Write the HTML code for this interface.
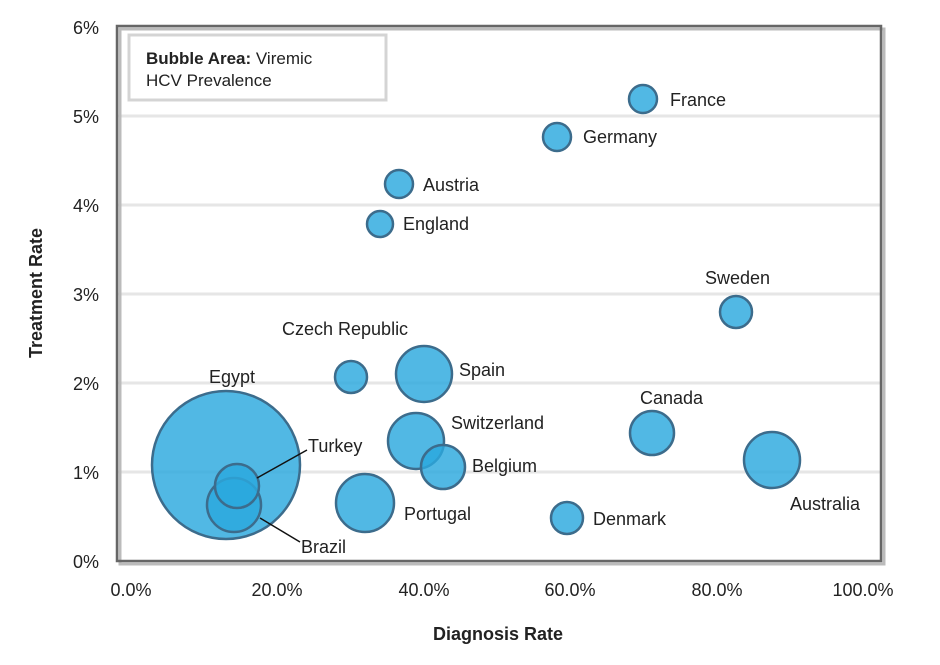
<!DOCTYPE html>
<html><head><meta charset="utf-8"><style>
html,body{margin:0;padding:0;background:#fff;}
svg text{font-family:"Liberation Sans",sans-serif;}
</style></head><body>
<svg width="940" height="660" viewBox="0 0 940 660" xmlns="http://www.w3.org/2000/svg">
<g stroke="#e6e6e6" stroke-width="3">
<line x1="118" y1="116" x2="880" y2="116"/>
<line x1="118" y1="205" x2="880" y2="205"/>
<line x1="118" y1="294" x2="880" y2="294"/>
<line x1="118" y1="383" x2="880" y2="383"/>
<line x1="118" y1="472" x2="880" y2="472"/>
</g>
<rect x="118" y="27" width="764" height="535" fill="none" stroke="#bbb" stroke-width="3" transform="translate(2,2)"/>
<rect x="117" y="26" width="764" height="535" fill="none" stroke="#666" stroke-width="2.5"/>
<rect x="129" y="35" width="257" height="65" fill="#fff" stroke="#d4d4d4" stroke-width="3"/>
<text x="146" y="64" font-size="17" fill="#222"><tspan font-weight="bold">Bubble Area:</tspan> Viremic</text>
<text x="146" y="86" font-size="17" fill="#222">HCV Prevalence</text>
<g fill="#2ba8de" fill-opacity="0.82" stroke="#3c6c8c" stroke-width="2.5">
<circle cx="226" cy="465" r="74"/>
<circle cx="234" cy="505" r="27"/>
<circle cx="237" cy="486" r="22"/>
<circle cx="365" cy="503" r="29"/>
<circle cx="351" cy="377" r="16"/>
<circle cx="424" cy="374" r="28"/>
<circle cx="416" cy="441" r="28"/>
<circle cx="443" cy="467" r="22"/>
<circle cx="399" cy="184" r="14"/>
<circle cx="380" cy="224" r="13"/>
<circle cx="557" cy="137" r="14"/>
<circle cx="643" cy="99" r="14"/>
<circle cx="736" cy="312" r="16"/>
<circle cx="652" cy="433" r="22"/>
<circle cx="567" cy="518" r="16"/>
<circle cx="772" cy="460" r="28"/>
</g>
<g stroke="#111" stroke-width="1.5">
<line x1="257" y1="478" x2="307" y2="450"/>
<line x1="260" y1="518" x2="300" y2="542"/>
</g>
<g font-size="18" fill="#222">
<text x="209" y="383">Egypt</text>
<text x="308" y="452">Turkey</text>
<text x="301" y="553">Brazil</text>
<text x="404" y="520">Portugal</text>
<text x="282" y="335">Czech Republic</text>
<text x="459" y="376">Spain</text>
<text x="451" y="429">Switzerland</text>
<text x="472" y="472">Belgium</text>
<text x="423" y="191">Austria</text>
<text x="403" y="230">England</text>
<text x="583" y="143">Germany</text>
<text x="670" y="106">France</text>
<text x="705" y="284">Sweden</text>
<text x="640" y="404">Canada</text>
<text x="593" y="525">Denmark</text>
<text x="790" y="510">Australia</text>
</g>
<g font-size="18" fill="#222" text-anchor="end">
<text x="99" y="34">6%</text>
<text x="99" y="123">5%</text>
<text x="99" y="212">4%</text>
<text x="99" y="301">3%</text>
<text x="99" y="390">2%</text>
<text x="99" y="479">1%</text>
<text x="99" y="568">0%</text>
</g>
<g font-size="18" fill="#222" text-anchor="middle">
<text x="131" y="596">0.0%</text>
<text x="277" y="596">20.0%</text>
<text x="424" y="596">40.0%</text>
<text x="570" y="596">60.0%</text>
<text x="717" y="596">80.0%</text>
<text x="863" y="596">100.0%</text>
</g>
<text x="498" y="640" font-size="18" font-weight="bold" fill="#222" text-anchor="middle">Diagnosis Rate</text>
<text transform="translate(42,293) rotate(-90)" font-size="18" font-weight="bold" fill="#222" text-anchor="middle">Treatment Rate</text>
</svg>
</body></html>
